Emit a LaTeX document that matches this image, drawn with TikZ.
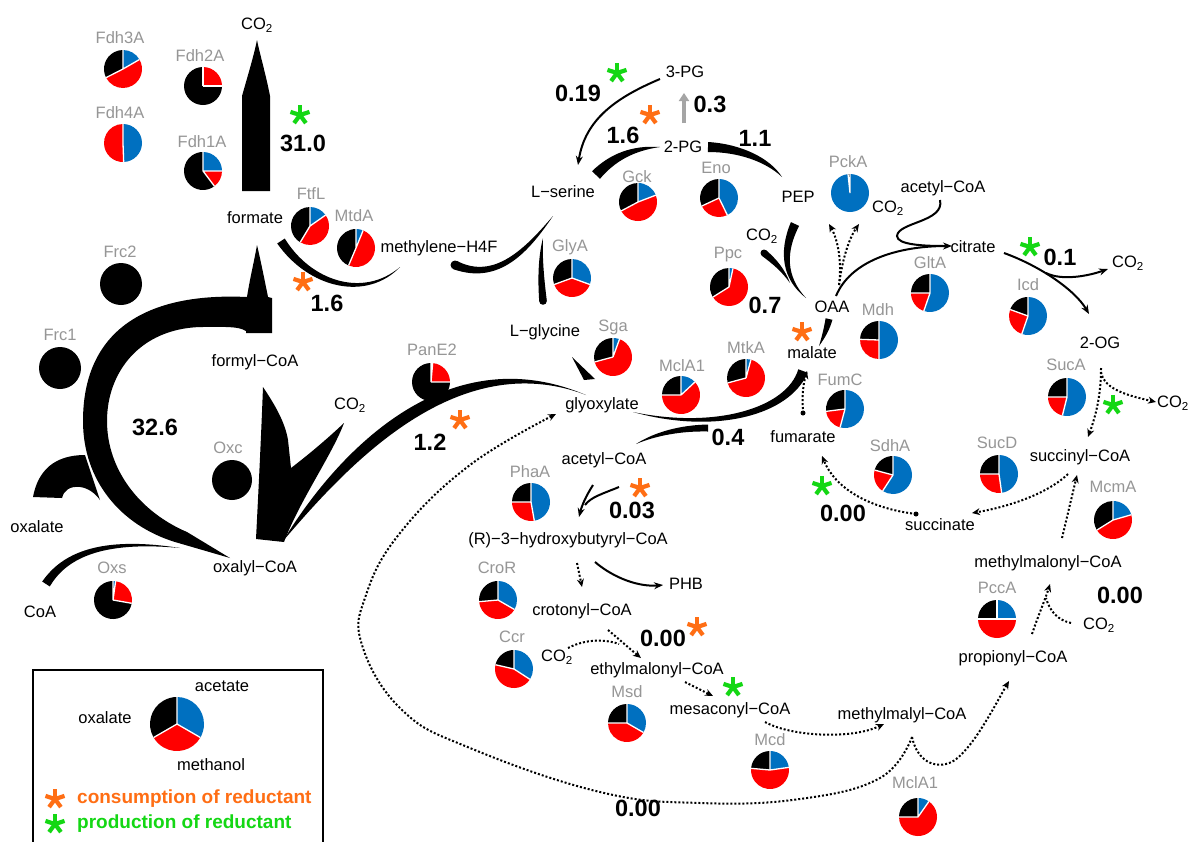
\documentclass[tikz,border=0pt]{standalone}
\usepackage{fontspec}
\setmainfont{Liberation Sans}
\usetikzlibrary{arrows.meta,calc}
\definecolor{pblue}{RGB}{0,112,192}
\definecolor{pred}{RGB}{255,0,0}
\definecolor{gtext}{RGB}{150,150,150}
\definecolor{aorange}{RGB}{255,110,20}
\definecolor{agreen}{RGB}{20,215,20}
\definecolor{garrow}{RGB}{165,165,165}

\newcommand{\mypie}[5][19]{%
  \pgfmathsetmacro\angA{-90+#4}%
  \pgfmathsetmacro\angB{-90+#4+#5}%
  \fill[pblue] (#2,#3) -- ++(-90:#1) arc[start angle=-90,end angle=\angA,radius=#1] -- cycle;
  \fill[pred] (#2,#3) -- ++(\angA:#1) arc[start angle=\angA,end angle=\angB,radius=#1] -- cycle;
  \fill[black] (#2,#3) -- ++(\angB:#1) arc[start angle=\angB,end angle=270,radius=#1] -- cycle;
  \draw[white,line width=1.3pt] (#2,#3) -- ++(-90:#1) (#2,#3) -- ++(\angA:#1) (#2,#3) -- ++(\angB:#1);
}
\newcommand{\astk}[3]{%
  \foreach \angC in {-90,-18,54,126,198}{\draw[#3,line width=4.2pt] (#1,#2) -- ++(\angC:10);}}
\newcommand{\taper}[5]{%
  \fill ($(#1)!#5pt!90:(#2)$) .. controls ($(#2)!#5pt*0.85!90:(#3)$) and ($(#3)!#5pt*0.55!90:(#4)$) .. (#4)
     .. controls ($(#3)!#5pt*0.55!-90:(#4)$) and ($(#2)!#5pt*0.85!-90:(#3)$) .. ($(#1)!#5pt!-90:(#2)$) -- cycle;}
\newcommand{\lens}[5]{%
  \fill (#1) .. controls ($(#2)!#5pt!90:(#3)$) and ($(#3)!#5pt!-90:(#2)$) .. (#4)
     .. controls ($(#3)!#5pt!90:(#2)$) and ($(#2)!#5pt!-90:(#3)$) .. (#1) -- cycle;}

\tikzset{
  met/.style={font=\fontsize{16.5}{19}\selectfont, inner sep=0pt},
  enz/.style={met, text=gtext},
  flux/.style={font=\bfseries\fontsize{23.5}{26}\selectfont, inner sep=0pt},
  thinarr/.style={line width=2pt, -{Stealth[length=9pt,width=7pt]}},
  thinline/.style={line width=2pt},
  dotarr/.style={line width=2pt, dash pattern=on 2pt off 2pt, -{Stealth[length=8pt,width=7pt]}},
  dotline/.style={line width=2pt, dash pattern=on 2pt off 2pt},
  legtext/.style={font=\bfseries\fontsize{19}{22}\selectfont, inner sep=0pt, anchor=west},
}

\begin{document}
\begin{tikzpicture}[x=1pt,y=-1pt]
\useasboundingbox (0,0) rectangle (1193,841);
\fill[white] (0,0) rectangle (1193,841);

% ---------- big shapes, left ----------
\fill (242,191) -- (242,96) .. controls (248,75) and (254,55) .. (257,40) .. controls (260,55) and (266,75) .. (270,96) -- (270,191) -- cycle;
\fill (257,245) .. controls (261,262) and (265,282) .. (268,297) -- (272,298) -- (272,333) -- (246,333) -- (246,331)
   .. controls (238,326) and (225,327) .. (200,327)
   .. controls (140,329) and (107,372) .. (107,421) .. controls (107,470) and (140,512) .. (187,532) -- (230,558)
   -- (175,542) .. controls (120,525) and (83,480) .. (83,421) .. controls (83,335) and (140,292) .. (247,297)
   .. controls (250,278) and (254,262) .. (257,245) -- cycle;
\fill (85,455) .. controls (55,455) and (38,470) .. (33,497) -- (62,498) .. controls (64,490) and (70,486) .. (80,487)
   .. controls (88,488) and (95,493) .. (100,500) -- cycle;
\taper{46,584}{64,556}{100,538}{180,548}{4.5}
\fill (263,387) .. controls (275,405) and (285,422) .. (288,440) -- (291,468) .. controls (308,455) and (326,440) .. (344,423)
   .. controls (332,455) and (300,500) .. (284,542) -- (256,539) .. controls (258,500) and (261,440) .. (263,387) -- cycle;
\fill (121,284) circle[radius=21];
\fill (60,368) circle[radius=21];
\fill (232,480) circle[radius=20];

% ---------- thick arrows ----------
\lens{283,541}{340,462}{450,340}{586,395}{8}
\taper{281,241}{310,285}{365,300}{400,267}{4.5}
\taper{455,265}{497,283}{527,250}{553,216}{4.5}
\fill (455,265) circle[radius=4.5];
\taper{543,301}{541,280}{540,258}{543,238}{3.8}
\fill (543,301) circle[radius=3.8];
\taper{596,175}{612,158}{632,148}{660,147}{5.5}
\taper{708,147}{740,148}{768,160}{782,177}{5}
\taper{795,224}{782,252}{784,278}{806,298}{4.5}
\taper{764,253}{775,262}{783,270}{790,283}{3.5}
\fill (764,253) circle[radius=3.5];
\taper{829,319}{827,328}{824,336}{819,346}{3.5}
\taper{803,371}{788,412}{715,432}{633,412}{5}
\taper{708,428}{680,428}{655,434}{636,444}{3.5}
\fill (572,357) -- (595,379) -- (584,380) -- cycle;
\draw[garrow, line width=4.5pt, -{Triangle[length=8pt,width=10pt]}] (684,123) -- (684,93);

% ---------- thin arrows ----------
\draw[thinarr] (660,79) .. controls (615,98) and (585,120) .. (578,165);
\draw[thinarr] (836,296) .. controls (850,262) and (895,246) .. (952,246);
\draw[thinline] (940,200) .. controls (945,222) and (898,222) .. (897,236) .. controls (897,245) and (925,246) .. (945,246);
\draw[thinarr] (1004,253) .. controls (1040,266) and (1075,290) .. (1089,314);
\draw[thinarr] (1046,273) .. controls (1062,281) and (1088,276) .. (1108,269);
\draw[thinarr] (593,485) .. controls (586,496) and (582,505) .. (579,517);
\draw[thinline] (619,487) .. controls (602,494) and (591,497) .. (585,505);
\draw[thinarr] (595,562) .. controls (615,579) and (640,587) .. (663,585);

% ---------- dotted arrows ----------
\draw[dotarr] (839,285) .. controls (842,262) and (838,240) .. (829,224);
\draw[dotarr] (839,285) .. controls (842,262) and (848,240) .. (859,224);
\fill (803,413) circle[radius=2.5];
\draw[dotarr] (803,413) .. controls (802,395) and (803,385) .. (807,371);
\draw[dotarr] (1101,368) .. controls (1101,395) and (1096,415) .. (1088,437);
\draw[dotarr] (1101,372) .. controls (1104,390) and (1130,396) .. (1156,402);
\draw[dotarr] (1068,474) .. controls (1045,496) and (1002,508) .. (972,513);
\fill (916,514) circle[radius=2.5];
\draw[dotarr] (916,514) .. controls (868,508) and (835,488) .. (822,456);
\draw[dotarr] (1062,538) -- (1077,475);
\draw[dotarr] (1032,634) .. controls (1038,616) and (1045,600) .. (1050,584);
\draw[dotline] (1071,623) .. controls (1058,620) and (1050,612) .. (1046,598);
\draw[dotarr] (577,563) -- (582,587);
\draw[dotarr] (608,630) .. controls (620,640) and (630,649) .. (641,658);
\draw[dotline] (568,648) .. controls (585,639) and (605,639) .. (619,644);
\draw[dotarr] (685,682) -- (713,696);
\draw[dotarr] (765,722) .. controls (790,736) and (850,740) .. (884,724);
\draw[dotarr] (912,737) .. controls (918,765) and (940,770) .. (955,760) .. controls (975,745) and (995,705) .. (1009,681);
\draw[dotarr] plot[smooth, tension=0.7] coordinates {(912,737) (880,778) (800,799) (700,803) (600,792) (470,748) (402,710) (362,645) (366,595) (400,533) (470,465) (556,414)};

% ---------- pies and enzyme labels ----------
\node[enz] (eFdhC) at (120,38) {Fdh3A};  \mypie{123}{69}{60}{183}
\node[enz] (eFdhB) at (200,56) {Fdh2A};  \mypie{203}{86}{0}{90}
\node[enz] (eFdhD) at (120,113) {Fdh4A}; \mypie{123}{143}{178}{182}
\node[enz] (eFdhA) at (202,142) {Fdh1A}; \mypie{203}{171}{90}{53}
\node[enz] (eFtfL) at (311,194) {FtfL};  \mypie{310}{226}{55}{156}
\node[enz] (eMtdA) at (354,216) {MtdA};  \mypie{356}{248}{22}{181}
\node[enz] (eFrcB) at (120,252) {Frc2};
\node[enz] (eFrcA) at (60,335) {Frc1};
\node[enz] (eOxc) at (228,448) {Oxc};
\node[enz] (eOxs) at (112,568) {Oxs};    \mypie{113}{600}{8}{92}
\node[enz] (ePanE) at (432,350) {PanE2}; \mypie{431}{382}{5}{85}
\node[enz] (eGlyA) at (570,247) {GlyA};  \mypie{572}{278}{110}{140}
\node[enz] (eGck) at (637,177) {Gck};    \mypie{638}{202}{69}{173}
\node[enz] (eEno) at (716,168) {Eno};    \mypie{719}{198}{154}{91}
\node[enz] (ePpc) at (728,255) {Ppc};    \mypie{729}{287}{12}{226}
\node[enz] (ePckA) at (848,162) {PckA};  \mypie{850}{193}{354}{0}
\node[enz] (eGltA) at (930,263) {GltA};  \mypie{930}{293}{199}{71}
\node[enz] (eMdh) at (878,310) {Mdh};    \mypie{879}{340}{180}{92}
\node[enz] (eIcd) at (1028,285) {Icd};   \mypie{1028}{316}{199}{91}
\node[enz] (eSga) at (613,327) {Sga};    \mypie{613}{357}{20}{235}
\node[enz] (eMclA) at (682,366) {MclA1}; \mypie{681}{395}{47}{223}
\node[enz] (eMtkA) at (746,348) {MtkA};  \mypie{746}{378}{15}{240}
\node[enz] (eFumC) at (840,380) {FumC};  \mypie{845}{409}{195}{68}
\node[enz] (eSucA) at (1066,365) {SucA}; \mypie{1067}{397}{194}{76}
\node[enz] (eSdhA) at (890,446) {SdhA};  \mypie{893}{475}{213}{72}
\node[enz] (eSucD) at (997,443) {SucD};  \mypie{999}{474}{172}{98}
\node[enz] (eMcmA) at (1113,487) {McmA}; \mypie{1113}{520}{74}{164}
\node[enz] (ePhaA) at (530,472) {PhaA};  \mypie{531}{502}{170}{100}
\node[enz] (eCroR) at (497,568) {CroR};  \mypie{498}{600}{120}{145}
\node[enz] (eCcr) at (512,637) {Ccr};    \mypie{514}{669}{123}{160}
\node[enz] (eMsd) at (627,692) {Msd};    \mypie{627}{723}{120}{150}
\node[enz] (eMcd) at (770,740) {Mcd};    \mypie{770}{770}{82}{193}
\node[enz] (ePccA) at (997,588) {PccA};  \mypie{997}{619}{90}{180}
\node[enz] (eMclB) at (915,783) {MclA1}; \mypie{918}{817}{35}{235}

% ---------- metabolites ----------
\node[met] (co2a) at (257,25) {CO\textsubscript{2}};
\node[met] (formate) at (255,218) {formate};
\node[met] (mh4f) at (439,248) {methylene−H4F};
\node[met] (formylcoa) at (255,362) {formyl−CoA};
\node[met] (co2b) at (350,405) {CO\textsubscript{2}};
\node[met] (oxalate) at (37,527) {oxalate};
\node[met] (oxalylcoa) at (255,568) {oxalyl−CoA};
\node[met] (coa) at (40,612) {CoA};
\node[met] (pg3) at (685,72) {3-PG};
\node[met] (pg2) at (683,147) {2-PG};
\node[met] (serine) at (563,192) {L−serine};
\node[met] (pep) at (798,197) {PEP};
\node[met] (co2c) at (762,236) {CO\textsubscript{2}};
\node[met] (glycine) at (545,332) {L−glycine};
\node[met] (glyox) at (602,405) {glyoxylate};
\node[met] (oaa) at (832,307) {OAA};
\node[met] (malate) at (812,353) {malate};
\node[met] (fumarate) at (803,437) {fumarate};
\node[met] (acoaA) at (943,188) {acetyl−CoA};
\node[met] (co2d) at (888,208) {CO\textsubscript{2}};
\node[met] (citrate) at (973,247) {citrate};
\node[met] (co2e) at (1128,263) {CO\textsubscript{2}};
\node[met] (og2) at (1100,343) {2-OG};
\node[met, anchor=west] (co2f) at (1157,403) {CO\textsubscript{2}};
\node[met] (succoa) at (1080,457) {succinyl−CoA};
\node[met] (succinate) at (940,525) {succinate};
\node[met] (mmcoa) at (1048,563) {methylmalonyl−CoA};
\node[met] (co2g) at (1099,625) {CO\textsubscript{2}};
\node[met] (propcoa) at (1013,658) {propionyl−CoA};
\node[met] (mmalyl) at (902,715) {methylmalyl−CoA};
\node[met] (mesacoa) at (730,710) {mesaconyl−CoA};
\node[met] (emcoa) at (657,670) {ethylmalonyl−CoA};
\node[met] (co2h) at (557,657) {CO\textsubscript{2}};
\node[met] (crotcoa) at (582,611) {crotonyl−CoA};
\node[met] (phb) at (686,584) {PHB};
\node[met] (hbcoa) at (568,540) {(R)−3−hydroxybutyryl−CoA};
\node[met] (acoaB) at (604,460) {acetyl−CoA};

% ---------- flux values ----------
\node[flux] (fA) at (303,143) {31.0};
\node[flux] (fB) at (327,303) {1.6};
\node[flux] (fC) at (155,427) {32.6};
\node[flux] (fD) at (430,442) {1.2};
\node[flux] (fE) at (578,93) {0.19};
\node[flux] (fF) at (710,104) {0.3};
\node[flux] (fG) at (623,135) {1.6};
\node[flux] (fH) at (755,138) {1.1};
\node[flux] (fI) at (765,305) {0.7};
\node[flux] (fJ) at (1060,257) {0.1};
\node[flux] (fK) at (728,437) {0.4};
\node[flux] (fL) at (632,510) {0.03};
\node[flux] (fM) at (843,513) {0.00};
\node[flux] (fN) at (1120,595) {0.00};
\node[flux] (fO) at (663,638) {0.00};
\node[flux] (fP) at (638,808) {0.00};

% ---------- asterisks ----------
\astk{300}{115}{agreen}
\astk{303}{282}{aorange}
\astk{617}{73}{agreen}
\astk{650}{115}{aorange}
\astk{460}{420}{aorange}
\astk{802}{332}{aorange}
\astk{1030}{247}{agreen}
\astk{1113}{405}{agreen}
\astk{640}{488}{aorange}
\astk{822}{486}{agreen}
\astk{697}{627}{aorange}
\astk{733}{687}{agreen}

% ---------- legend ----------
\draw[line width=1.5pt] (33,670) rectangle (323,870);
\mypie[27]{177}{724}{120}{120}
\node[met] (lacet) at (222,686) {acetate};
\node[met] (loxal) at (105,718) {oxalate};
\node[met] (lmeth) at (211,765) {methanol};
\astk{55}{799}{aorange}
\astk{55}{824}{agreen}
\node[legtext, text=aorange] (lcons) at (77,799) {consumption of reductant};
\node[legtext, text=agreen] (lprod) at (77,824) {production of reductant};
\end{tikzpicture}
\end{document}
